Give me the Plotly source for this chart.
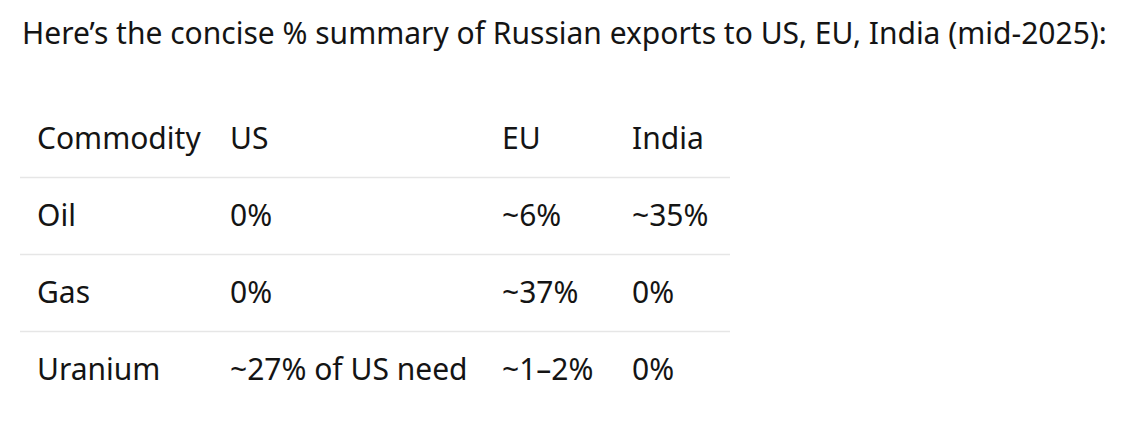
import plotly.graph_objects as go

# table contents
headers = ["Commodity", "US", "EU", "India"]
commodities = ["Oil", "Gas", "Uranium"]
us_share = ["0%", "0%", "~27% of US need"]
eu_share = ["~6%", "~37%", "~1–2%"]
india_share = ["~35%", "0%", "0%"]

title_text = "Here’s the concise % summary of Russian exports to US, EU, India (mid-2025):"

# layout constants (pixel space, y grows downward)
W, H = 1132, 427
PAGE_PAD = 8  # default body margin of the html page
col_x = [37, 230, 502, 632]
header_y = 138
row_step = 77
text_dy = 3  # baseline nudge for cell text
rule_x = (20, 730)
font_family = "Noto Sans, Open Sans, sans-serif"
font_size = 30
text_color = "#141414"
rule_color = "#e6e6e6"

columns = [commodities, us_share, eu_share, india_share]
fig = go.Figure()

# header row
fig.add_trace(go.Scatter(
    x=col_x, y=[header_y + text_dy] * len(headers), text=headers,
    mode="text", textposition="middle right",
    textfont=dict(size=font_size, color=text_color, family=font_family),
    hoverinfo="skip", showlegend=False
))

# body cells, one trace per column
for cx, values in zip(col_x, columns):
    ys = [header_y + text_dy + row_step * (i + 1) for i in range(len(values))]
    fig.add_trace(go.Scatter(
        x=[cx] * len(values), y=ys, text=values,
        mode="text", textposition="middle right",
        textfont=dict(size=font_size, color=text_color, family=font_family),
        hoverinfo="skip", showlegend=False
    ))

# horizontal rules under header and between rows
for k in range(len(commodities)):
    y_line = header_y + row_step * (k + 0.5) + 1
    fig.add_shape(type="line", xref="x", yref="y",
                  x0=rule_x[0], x1=rule_x[1], y0=y_line, y1=y_line,
                  line=dict(color=rule_color, width=1.5))

fig.add_annotation(
    text=title_text, xref="x", yref="y", x=20, y=32,
    xanchor="left", yanchor="middle", showarrow=False,
    font=dict(size=font_size, color=text_color, family=font_family)
)

fig.update_layout(
    width=W, height=H,
    margin=dict(l=0, r=0, t=0, b=0),
    paper_bgcolor="white", plot_bgcolor="white",
    xaxis=dict(range=[PAGE_PAD, W + PAGE_PAD], visible=False, fixedrange=True),
    yaxis=dict(range=[H + PAGE_PAD, PAGE_PAD], visible=False, fixedrange=True),
)

fig.write_html("out.html")
